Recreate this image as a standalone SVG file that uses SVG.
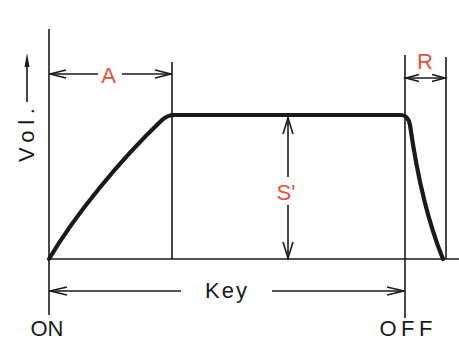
<svg xmlns="http://www.w3.org/2000/svg" width="459" height="338" viewBox="0 0 459 338">
<style>
.ln{stroke:#1a1a1a;stroke-width:1.6;fill:none}
.ah{stroke:#1a1a1a;stroke-width:1.6;fill:none;stroke-linejoin:miter}
.env{stroke:#1a1a1a;stroke-width:4.2;fill:none;stroke-linejoin:round;stroke-linecap:round}
.red{font-family:"Liberation Sans",Arial,sans-serif;font-size:22px;fill:#e5533b}
.blk{font-family:"Liberation Sans",Arial,sans-serif;font-size:22px;fill:#1a1a1a}
</style>
<rect width="459" height="338" fill="#ffffff"/>
<g id="axes">
<line class="ln" x1="49" y1="29" x2="49" y2="315"/>
<line class="ln" x1="49" y1="259" x2="459" y2="259"/>
<line class="ln" x1="172" y1="62" x2="172" y2="259"/>
<line class="ln" x1="405" y1="55" x2="405" y2="318"/>
<line class="ln" x1="446" y1="57" x2="446" y2="259"/>
</g>
<g id="envelope">
<path class="env" d="M49,259 C75,215 120,160 162,120 Q167,115 175,115 L401,115 Q408,115 410,125 C415,160 425,215 443,259"/>
</g>
<g id="vol">
<line class="ln" x1="27" y1="62" x2="27" y2="102"/>
<path d="M27,53 L29.5,67 L24.5,67 Z" fill="#1a1a1a"/>
<text class="blk" transform="translate(34,135) rotate(-90)" text-anchor="middle" textLength="54" lengthAdjust="spacing">Vol.</text>
</g>
<g id="attack">
<line class="ln" x1="49" y1="74" x2="98" y2="74"/>
<line class="ln" x1="122" y1="74" x2="172" y2="74"/>
<path class="ah" d="M66,70 L50,74 L66,78"/>
<path class="ah" d="M155,70 L171,74 L155,78"/>
<text class="red" x="108.5" y="83" text-anchor="middle">A</text>
</g>
<g id="release">
<line class="ln" x1="405" y1="78" x2="446" y2="78"/>
<path class="ah" d="M419,74.5 L406,78 L419,81.5"/>
<path class="ah" d="M432,74.5 L445,78 L432,81.5"/>
<text class="red" x="425" y="69" text-anchor="middle">R</text>
</g>
<g id="sustain">
<line class="ln" x1="288" y1="117" x2="288" y2="177"/>
<line class="ln" x1="288" y1="205" x2="288" y2="259"/>
<path class="ah" d="M283,134 L288,118 L293,134"/>
<path class="ah" d="M283,242 L288,258 L293,242"/>
<text class="red" x="286" y="200" text-anchor="middle">S'</text>
</g>
<g id="key">
<line class="ln" x1="49" y1="291" x2="181" y2="291"/>
<line class="ln" x1="272" y1="291" x2="405" y2="291"/>
<path class="ah" d="M67,287 L50,291 L67,295"/>
<path class="ah" d="M387,287 L404,291 L387,295"/>
<text class="blk" x="226" y="298" text-anchor="middle" textLength="42" lengthAdjust="spacing">Key</text>
</g>
<g id="labels">
<text class="blk" x="47" y="336" text-anchor="middle">ON</text>
<text class="blk" x="406" y="336" text-anchor="middle" textLength="53" lengthAdjust="spacing">OFF</text>
</g>
</svg>
